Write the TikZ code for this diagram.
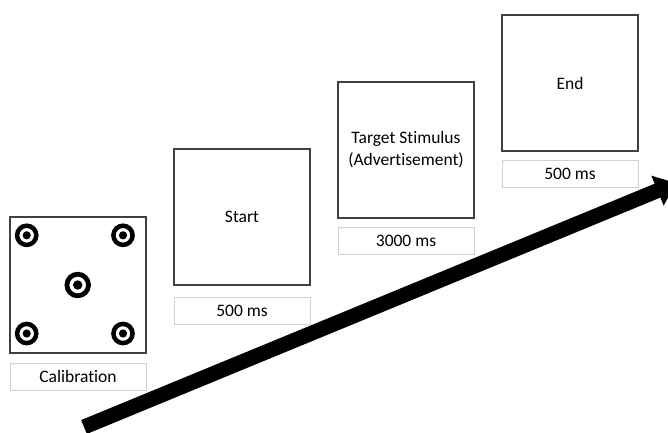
\documentclass[tikz,border=0pt]{standalone}
\usepackage{fontspec}
\setmainfont{Carlito}[Ligatures=NoCommon]
\usetikzlibrary{arrows.meta}
\tikzset{
  screen/.style={draw=black!75, line width=1.2pt, minimum width=136pt,
    minimum height=136pt, inner sep=0pt, align=center,
    font=\fontsize{17.5}{22}\selectfont},
  dur/.style={draw=black!18, line width=0.8pt, minimum width=136pt,
    minimum height=27pt, inner sep=0pt, font=\fontsize{17.5}{20}\selectfont},
  ring/.style={draw=black, line width=4.5pt},
  bullseye/.style={fill=black},
  timeline/.style={line width=15pt, -{Triangle[width=31pt,length=20pt]}}
}
\begin{document}
\begin{tikzpicture}[x=1pt, y=-1pt]
  \useasboundingbox (0,0) rectangle (668,432);
  \clip (0,0) rectangle (668,432);

  % screens of the trial sequence
  \node[screen] (cal)  at (78,285)  {};
  \node[screen] (start) at (242,217) {Start};
  \node[screen] (stim) at (406,150) {Target Stimulus\\(Advertisement)};
  \node[screen] (fin)  at (570,83)  {End};

  % durations beneath each screen
  \node[dur] (calT)   at (78,376.5)  {Calibration};
  \node[dur] (startT) at (242,310.5) {500 ms};
  \node[dur] (stimT)  at (406,241)   {3000 ms};
  \node[dur] (finT)   at (570,174)   {500 ms};

  % calibration targets
  \foreach \cx/\cy in {26.7/235.3, 123/235.3, 26.7/333.5, 123/333.5}{
    \draw[ring] (\cx,\cy) circle[radius=9.6];
    \fill[bullseye] (\cx,\cy) circle[radius=4.1];
  }
  \draw[ring, line width=4.8pt] (77.7,285) circle[radius=10.8];
  \fill[bullseye] (77.7,285) circle[radius=4.7];

  % time axis
  \coordinate (t0) at (84,427);
  \coordinate (t1) at (676,183);
  \draw[timeline] (t0) -- (t1);
\end{tikzpicture}
\end{document}
